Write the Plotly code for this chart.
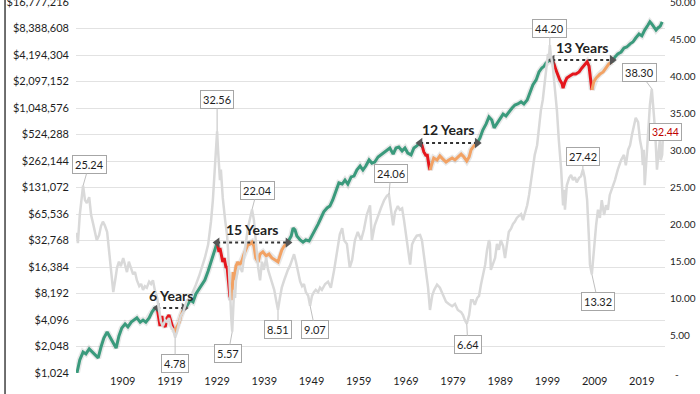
import math
import plotly.graph_objects as go

# ---------------- DATA ----------------
# Growth line (left log axis), split into regimes
g1_years = [1899.3, 1899.9, 1900.6, 1901.2, 1901.9, 1902.5, 1903.1, 1903.8, 1904.4, 1905.0, 1905.7, 1906.3,
            1906.9, 1907.6, 1908.2, 1908.8, 1909.5, 1910.1, 1910.8, 1911.4, 1912.0, 1912.7, 1913.3, 1913.9,
            1914.6, 1915.2, 1915.8, 1916.3]
g1_vals = [1024, 1438, 1770, 1687, 1924, 1770, 1641, 1520, 2020, 2556, 2998, 2628,
           2241, 1965, 2702, 3327, 3692, 3420, 3875, 4096, 4329, 3875, 4096, 3875,
           4329, 5043, 5595, 5595]

r1_years = [1916.3, 1916.7, 1916.9, 1917.3, 1917.5, 1918.0, 1918.4, 1918.8, 1919.2, 1919.7]
r1_vals = [5595, 4329, 3493, 4544, 3692, 3420, 4329, 4672, 3875, 3236]

o1_years = [1919.7, 1920.1, 1920.5, 1921.0, 1921.3, 1921.8, 1922.0]
o1_vals = [3236, 3061, 3420, 3875, 4544, 5330, 5595]

g2_years = [1922.0, 1922.6, 1923.3, 1923.9, 1924.5, 1925.2, 1925.8, 1926.4, 1927.1, 1927.7, 1928.3, 1929.0]
g2_vals = [5595, 5913, 6889, 6562, 8080, 9215, 10513, 11665, 14760, 18690, 24330, 31000]

r2_years = [1929.0, 1929.2, 1929.4, 1929.6, 1930.0, 1930.2, 1930.5, 1930.9, 1931.1, 1931.5, 1931.7, 1932.0]
r2_vals = [31000, 28330, 24330, 26980, 20740, 18690, 20740, 15930, 16840, 10513, 7700, 6889]

o2_years = [1932.0, 1932.2, 1932.4, 1932.6, 1933.0, 1933.4, 1933.8, 1934.3, 1934.7, 1935.1, 1935.5, 1936.0,
            1936.4, 1936.8, 1937.2, 1937.7, 1938.1, 1938.7, 1939.4, 1940.0, 1940.6, 1941.3, 1941.9, 1942.3,
            1942.7, 1943.2, 1943.6, 1944.0]
o2_vals = [6889, 8970, 14360, 11665, 16840, 18690, 17320, 19620, 23010, 25520, 29120, 29930,
           31440, 28330, 20740, 18690, 23010, 24330, 21920, 23010, 20740, 19620, 18690, 21920,
           25520, 28330, 29930, 31440]

g3_years = [1944.0, 1944.7, 1945.1, 1945.5, 1945.9, 1946.6, 1947.2, 1947.8, 1948.5, 1949.1, 1949.7, 1950.4,
            1951.0, 1951.6, 1952.3, 1952.9, 1953.5, 1954.2, 1954.8, 1955.5, 1956.1, 1956.7, 1957.4, 1958.0,
            1958.6, 1959.3, 1959.9, 1960.5, 1961.2, 1961.8, 1962.4, 1963.1, 1963.7, 1964.4, 1965.0, 1965.6,
            1966.3, 1966.9, 1967.5, 1968.2, 1968.8, 1969.4, 1970.1, 1970.7, 1971.3, 1972.0]
g3_vals = [31440, 36870, 45380, 43230, 36870, 33230, 31440, 33230, 32320, 36870, 43230, 50350,
           59020, 69240, 76830, 80660, 94620, 123100, 147500, 143500, 159200, 143500, 172900, 176600,
           207000, 229700, 207000, 229700, 269500, 248000, 255000, 290800, 307400, 331800, 350600, 368000,
           314000, 368000, 378300, 341200, 368000, 322800, 307400, 368000, 389000, 420000]

r3_years = [1972.0, 1972.4, 1972.8, 1973.3, 1973.5, 1973.7, 1973.9, 1974.1]
r3_vals = [420000, 397000, 331800, 299600, 314000, 255000, 229700, 207000]

o3_years = [1974.1, 1974.5, 1974.9, 1975.6, 1976.2, 1976.8, 1977.5, 1978.1, 1978.8, 1979.4, 1980.0, 1980.7,
            1981.3, 1981.9, 1982.4, 1982.8, 1983.4, 1984.1]
o3_vals = [207000, 242900, 283100, 269500, 299600, 277200, 255000, 269500, 283100, 269500, 290800, 314000,
           290800, 262144, 290800, 350600, 389000, 420000]

g4_years = [1984.1, 1984.7, 1985.3, 1986.0, 1986.6, 1987.2, 1987.7, 1988.3, 1988.9, 1989.6, 1990.2, 1990.8,
            1991.5, 1992.1, 1992.7, 1993.4, 1994.0, 1994.7, 1995.3, 1995.9, 1996.6, 1997.2, 1997.8, 1998.3,
            1998.7, 1999.1, 1999.5, 2000.0]
g4_vals = [420000, 479000, 589800, 691600, 828000, 767000, 623200, 691600, 767000, 894000, 851700, 944600,
           1048576, 1132000, 1164000, 1230000, 1164000, 1291000, 1590000, 1918000, 2188000, 2693000, 2988000, 3139000,
           3410000, 3505000, 3677000, 3677000]

r4_years = [2000.0, 2000.4, 2000.8, 2001.2, 2001.6, 2002.1, 2002.3, 2002.7, 2003.1, 2003.8, 2004.4, 2005.0,
            2005.7, 2006.3, 2006.9, 2007.4, 2007.8, 2008.0, 2008.2, 2008.4]
r4_vals = [3677000, 3317000, 2827000, 2431000, 2188000, 1972000, 1766000, 2070000, 2296000, 2431000, 2546000, 2546000,
           2693000, 2988000, 3226000, 3505000, 3139000, 2693000, 2070000, 1680000]

o4_years = [2008.4, 2008.8, 2009.3, 2009.7, 2010.1, 2010.8, 2011.4, 2012.0, 2012.7]
o4_vals = [1680000, 2070000, 2296000, 2431000, 2546000, 2693000, 2988000, 3317000, 3505000]

g5_years = [2012.7, 2013.3, 2013.9, 2014.6, 2015.2, 2015.8, 2016.5, 2017.1, 2017.7, 2018.4, 2019.0, 2019.6,
            2020.3, 2020.7, 2021.1, 2021.6, 2022.0, 2022.4, 2022.9, 2023.3]
g5_vals = [3505000, 3971000, 4315000, 4537000, 5026000, 5166000, 5613000, 5891000, 6540000, 7260000, 6910000, 8050000,
           9180000, 9980000, 9440000, 8510000, 8050000, 8510000, 8930000, 9980000]

# CAPE ratio (right axis)
cape_years = [1899.3, 1899.5, 1899.9, 1900.6, 1901.0, 1901.4, 1901.9, 1902.3, 1902.7, 1903.1, 1903.5, 1904.0,
              1904.4, 1904.8, 1905.2, 1905.7, 1906.1, 1906.5, 1907.0, 1907.4, 1907.8, 1908.2, 1908.6, 1909.1,
              1909.5, 1909.9, 1910.3, 1910.8, 1911.2, 1911.6, 1912.0, 1912.5, 1912.9, 1913.3, 1913.7, 1914.1,
              1914.6, 1915.0, 1915.4, 1915.8, 1916.3, 1916.7, 1917.1, 1917.5, 1918.0, 1918.4, 1918.8, 1919.2,
              1919.7, 1920.1, 1920.5, 1921.0, 1921.3, 1921.8, 1922.2, 1922.6, 1923.3, 1923.9, 1924.5, 1925.2,
              1925.8, 1926.4, 1927.1, 1927.7, 1928.1, 1928.6, 1929.0, 1929.2, 1929.4, 1929.6, 1929.8, 1930.0,
              1930.2, 1930.7, 1931.1, 1931.3, 1931.5, 1931.7, 1932.0, 1932.2, 1932.4, 1932.6, 1932.8, 1933.0,
              1933.4, 1933.8, 1934.3, 1934.7, 1935.1, 1935.5, 1936.0, 1936.4, 1936.8, 1937.2, 1937.7, 1938.1,
              1938.5, 1938.9, 1939.4, 1939.8, 1940.2, 1940.6, 1941.1, 1941.5, 1941.9, 1942.3, 1942.7, 1943.2,
              1943.6, 1944.0, 1944.4, 1944.9, 1945.3, 1945.7, 1946.1, 1946.6, 1947.0, 1947.4, 1947.8, 1948.3,
              1948.7, 1949.1, 1949.5, 1949.9, 1950.4, 1950.8, 1951.2, 1951.9, 1952.5, 1953.1, 1953.8, 1954.4,
              1955.0, 1955.5, 1955.9, 1956.5, 1957.1, 1957.6, 1958.2, 1958.8, 1959.5, 1960.1, 1960.7, 1961.4,
              1961.8, 1962.4, 1963.1, 1963.7, 1964.4, 1965.0, 1965.4, 1965.8, 1966.3, 1966.7, 1967.3, 1967.7,
              1968.2, 1968.6, 1969.0, 1969.4, 1969.9, 1970.3, 1970.7, 1971.3, 1972.0, 1972.4, 1972.8, 1973.3,
              1973.7, 1974.1, 1974.6, 1975.0, 1975.6, 1976.2, 1976.9, 1977.5, 1978.1, 1978.8, 1979.4, 1980.0,
              1980.7, 1981.1, 1981.5, 1981.9, 1982.4, 1982.8, 1983.2, 1983.6, 1984.1, 1984.5, 1984.9, 1985.3,
              1985.8, 1986.2, 1986.6, 1986.8, 1987.0, 1987.4, 1987.9, 1988.3, 1988.7, 1989.1, 1989.6, 1990.0,
              1990.4, 1990.8, 1991.3, 1991.7, 1992.1, 1992.5, 1993.0, 1993.4, 1993.8, 1994.2, 1994.7, 1995.1,
              1995.5, 1995.9, 1996.3, 1996.8, 1997.2, 1997.6, 1998.0, 1998.5, 1998.9, 1999.1, 1999.3, 1999.5,
              1999.7, 2000.1, 2000.6, 2001.0, 2001.4, 2001.9, 2002.3, 2002.5, 2002.7, 2003.1, 2003.6, 2004.0,
              2004.4, 2004.8, 2005.2, 2005.7, 2006.1, 2006.5, 2006.9, 2007.4, 2007.8, 2008.0, 2008.4, 2008.8,
              2009.3, 2009.7, 2010.1, 2010.5, 2011.0, 2011.4, 2011.8, 2012.2, 2012.7, 2013.3, 2013.9, 2014.6,
              2015.2, 2015.6, 2016.1, 2016.5, 2016.9, 2017.3, 2017.7, 2018.2, 2018.6, 2019.0, 2019.2, 2019.4,
              2019.6, 2020.1, 2020.5, 2020.7, 2021.1, 2021.3, 2021.8, 2022.0, 2022.2, 2022.6, 2022.8, 2023.0,
              2023.3, 2023.5]
cape_vals = [18.9, 17.5, 21.3, 25.24, 23.3, 22.9, 23.7, 21.3, 20.2, 18.9, 17.9, 18.6,
             19.8, 20.4, 19.9, 19.0, 16.6, 14.2, 10.9, 12.5, 14.2, 15.0, 14.4, 15.5,
             14.7, 13.6, 15.0, 14.2, 13.3, 13.6, 12.5, 11.7, 12.0, 11.2, 11.7, 11.5,
             12.3, 12.0, 12.5, 11.2, 10.1, 8.5, 6.9, 6.3, 7.1, 6.9, 7.4, 6.3,
             5.8, 4.78, 5.5, 6.9, 7.7, 8.2, 9.0, 9.8, 10.1, 10.9, 11.9, 13.1,
             14.2, 15.5, 17.3, 20.4, 23.3, 28.0, 32.56, 30.0, 27.1, 26.0, 27.4, 24.7,
             23.6, 20.6, 18.6, 16.8, 13.9, 9.8, 7.4, 5.57, 9.8, 11.2, 10.1, 12.5,
             13.9, 14.4, 13.6, 15.5, 17.9, 19.5, 20.9, 22.04, 20.6, 17.3, 14.2, 12.5,
             15.0, 13.9, 15.5, 13.9, 13.1, 12.3, 11.2, 9.8, 8.51, 10.1, 11.5, 12.5,
             13.3, 13.9, 14.4, 15.2, 16.0, 15.0, 13.6, 12.3, 11.7, 12.0, 10.9, 10.4,
             9.07, 10.4, 10.9, 11.2, 10.9, 11.5, 11.2, 12.0, 12.3, 11.5, 13.9, 16.6,
             18.7, 19.5, 17.9, 17.4, 14.2, 15.2, 17.9, 19.0, 17.9, 19.3, 21.3, 22.6,
             17.9, 19.9, 21.3, 22.2, 23.3, 23.9, 24.06, 22.0, 19.9, 21.7, 22.5, 22.0,
             22.2, 20.6, 18.6, 16.6, 14.6, 17.3, 17.9, 18.5, 18.6, 17.9, 15.9, 13.2,
             11.5, 8.5, 10.5, 11.2, 11.9, 11.5, 10.4, 9.6, 9.3, 9.0, 9.3, 8.5,
             8.2, 7.8, 7.1, 6.64, 7.8, 9.8, 9.8, 9.2, 10.1, 10.4, 11.9, 13.1,
             14.6, 16.6, 17.9, 17.4, 13.9, 14.6, 15.5, 17.4, 16.6, 17.9, 17.1, 15.5,
             17.1, 19.0, 19.5, 20.1, 20.4, 20.9, 21.2, 21.4, 20.6, 21.4, 22.6, 24.0,
             26.0, 27.6, 29.4, 30.7, 33.4, 35.4, 36.8, 39.5, 42.2, 43.0, 42.4, 44.2,
             42.9, 41.5, 38.1, 35.4, 31.4, 27.4, 22.6, 24.7, 22.0, 25.3, 26.3, 26.7,
             26.0, 26.4, 25.7, 26.3, 26.5, 27.42, 26.3, 23.3, 17.9, 14.6, 13.32, 16.6,
             19.9, 22.0, 20.9, 23.3, 21.3, 22.6, 22.0, 24.0, 24.9, 26.0, 27.4, 28.7,
             29.4, 28.0, 30.1, 30.7, 32.1, 33.4, 34.4, 33.8, 31.4, 30.1, 28.0, 30.1,
             25.3, 30.1, 34.1, 36.1, 38.3, 36.8, 32.7, 30.1, 27.4, 30.1, 31.4, 28.7,
             29.4, 32.44]

# CAPE call-outs
callout_years = [1900.6, 1929.0, 1936.4, 1920.1, 1932.2, 1941.9, 1948.7, 1965.4, 1981.9, 1999.5, 2006.5, 2008.4, 2021.1]
callout_vals = [25.24, 32.56, 22.04, 4.78, 5.57, 8.51, 9.07, 24.06, 6.64, 44.20, 27.42, 13.32, 38.30]
callout_ax = [6, 0, 5, 0, -4, 0, 5, 2, 1, 0, 0, 6, -12]
callout_ay = [-21, -32, -19, 26, 22, 20, 24, -21, 21, -17, -13, 27, -16]
cape_latest = 32.44

# Recovery periods (peak to regained peak)
rec_start = [1916.3, 1929.0, 1972.0, 2000.0]
rec_end = [1922.0, 1944.0, 1984.1, 2012.7]
rec_level = [5595, 31000, 420000, 3677000]
rec_labels = ["6 Years", "15 Years", "12 Years", "13 Years"]

# Axis ticks
left_tickvals = [1024, 2048, 4096, 8192, 16384, 32768, 65536, 131072, 262144, 524288,
                 1048576, 2097152, 4194304, 8388608, 16777216]
left_ticktext = ["$1,024", "$2,048", "$4,096", "$8,192", "$16,384", "$32,768", "$65,536", "$131,072",
                 "$262,144", "$524,288", "$1,048,576", "$2,097,152", "$4,194,304", "$8,388,608", "$16,777,216"]
right_tickvals = [5, 10, 15, 20, 25, 30, 35, 40, 45, 50]
right_ticktext = ["5.00", "10.00", "15.00", "20.00", "25.00", "30.00", "35.00", "40.00", "45.00", "50.00"]
right_zero_label = "-"
x_tickvals = [1909, 1919, 1929, 1939, 1949, 1959, 1969, 1979, 1989, 1999, 2009, 2019]

# ---------------- STYLE ----------------
FONT = "Lato"
GREEN = "#3a9a7c"
RED = "#e5161c"
ORANGE = "#f2a264"
GRAY = "#d9d9d9"
TXT = "#1e1e1e"

fig = go.Figure()

# CAPE line (behind)
fig.add_trace(go.Scatter(x=cape_years, y=cape_vals, yaxis="y2", mode="lines",
                         line=dict(color=GRAY, width=2.5), hoverinfo="skip"))

segments = [
    (g1_years, g1_vals, GREEN), (r1_years, r1_vals, RED), (o1_years, o1_vals, ORANGE),
    (g2_years, g2_vals, GREEN), (r2_years, r2_vals, RED), (o2_years, o2_vals, ORANGE),
    (g3_years, g3_vals, GREEN), (r3_years, r3_vals, RED), (o3_years, o3_vals, ORANGE),
    (g4_years, g4_vals, GREEN), (r4_years, r4_vals, RED), (o4_years, o4_vals, ORANGE),
    (g5_years, g5_vals, GREEN),
]
# soft shadow
for xs, ys, c in segments:
    fig.add_trace(go.Scatter(x=xs, y=ys, mode="lines", line=dict(color="rgba(80,80,80,0.13)", width=6),
                             hoverinfo="skip"))
for xs, ys, c in segments:
    fig.add_trace(go.Scatter(x=xs, y=ys, mode="lines", line=dict(color=c, width=3), hoverinfo="skip"))

annotations = []
# Recovery arrows
for s, e, lv, lab in zip(rec_start, rec_end, rec_level, rec_labels):
    fig.add_trace(go.Scatter(x=[s, e], y=[lv, lv], mode="lines",
                             line=dict(color="#333333", width=2, dash="dot"), hoverinfo="skip"))
    fig.add_trace(go.Scatter(x=[s, e], y=[lv, lv], mode="markers",
                             marker=dict(symbol=["triangle-left", "triangle-right"], size=9, color="#555555"),
                             hoverinfo="skip"))
    annotations.append(dict(x=(s + e) / 2, y=math.log10(lv), xref="x", yref="y",
                            text=f"<b>{lab}</b>", showarrow=False, yshift=13,
                            font=dict(family=FONT, size=14, color="#222222")))

# CAPE call-outs
for x, v, ax, ay in zip(callout_years, callout_vals, callout_ax, callout_ay):
    annotations.append(dict(x=x, y=v, xref="x", yref="y2", text=f"{v:.2f}", showarrow=True,
                            arrowhead=0, arrowwidth=1, arrowcolor="#bfbfbf", ax=ax, ay=ay,
                            bgcolor="white", bordercolor="#a6a6a6", borderwidth=1, borderpad=2,
                            font=dict(family=FONT, size=11, color=TXT)))
# Latest value on right axis
annotations.append(dict(x=1.029, y=cape_latest, xref="paper", yref="y2", text=f"{cape_latest:.2f}",
                        showarrow=False, bgcolor="white", bordercolor="#a6a6a6", borderwidth=1, borderpad=2,
                        font=dict(family=FONT, size=10.5, color="#c00000")))
# zero label of right axis (accounting-style dash)
annotations.append(dict(x=1.0, y=0, xref="paper", yref="y2", text=right_zero_label, showarrow=False,
                        xanchor="left", xshift=8, yshift=-1, font=dict(family=FONT, size=10, color=TXT)))

fig.update_layout(
    width=700, height=394,
    margin=dict(l=76, r=35, t=2, b=21, autoexpand=False),
    paper_bgcolor="white", plot_bgcolor="white",
    showlegend=False,
    font=dict(family=FONT, size=11, color=TXT),
    xaxis=dict(range=[1899.1, 2023.9], tickvals=x_tickvals, showgrid=False, zeroline=False,
               showline=False, ticks="", automargin=False, tickfont=dict(size=11, color=TXT)),
    yaxis=dict(type="log", range=[3.01029, 7.22473], tickvals=left_tickvals, ticktext=left_ticktext,
               showgrid=True, gridcolor="#e2e2e2", gridwidth=1, zeroline=False, ticks="",
               automargin=False, ticklabelstandoff=6, ticklabeloverflow="allow",
               tickfont=dict(size=11, color=TXT)),
    yaxis2=dict(overlaying="y", side="right", range=[-0.001, 50.001], tickvals=right_tickvals,
                ticktext=right_ticktext, showgrid=False, zeroline=False, ticks="",
                automargin=False, ticklabelstandoff=4, ticklabeloverflow="allow",
                tickfont=dict(size=10, color=TXT)),
    annotations=annotations,
    shapes=[dict(type="line", xref="paper", yref="paper", x0=-0.1205, x1=-0.1205, y0=-0.06, y1=1.01,
                 line=dict(color="#404040", width=1.5))],
)

fig.write_html("out.html", config={"displayModeBar": False},
               post_script="document.body.style.margin='0px';document.body.style.overflow='hidden';")
